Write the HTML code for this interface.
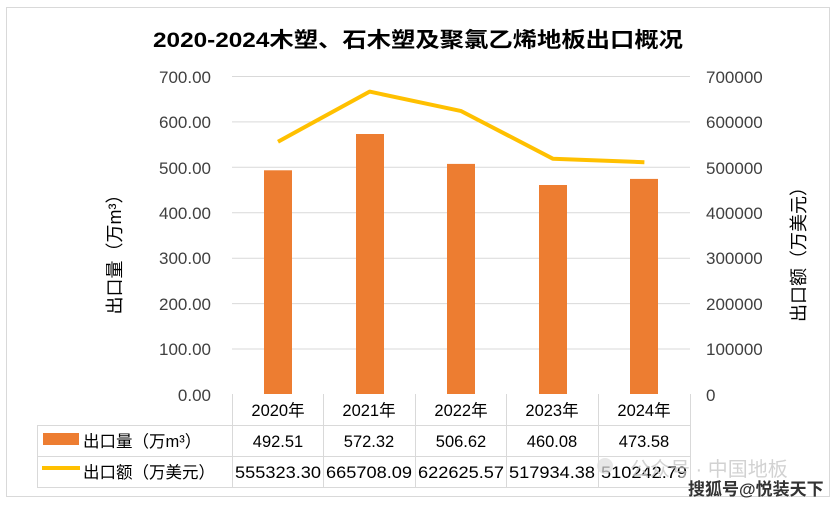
<!DOCTYPE html>
<html><head><meta charset="utf-8"><style>
body{margin:0;background:#fff}
svg text{font-family:"Liberation Sans","Noto Sans CJK SC",sans-serif}
</style></head><body>
<svg width="837" height="502" xmlns="http://www.w3.org/2000/svg">
<rect x="0" y="0" width="837" height="502" fill="#fff"/>
<rect x="6.5" y="7.5" width="823" height="489" fill="none" stroke="#d9d9d9"/>
<text x="418" y="47" text-anchor="middle" font-size="21" font-weight="bold" fill="#000" textLength="530" lengthAdjust="spacingAndGlyphs">2020-2024木塑、石木塑及聚氯乙烯地板出口概况</text>
<g stroke="#d9d9d9" stroke-width="1">
<line x1="232" x2="690" y1="76.5" y2="76.5"/>
<line x1="232" x2="690" y1="121.9" y2="121.9"/>
<line x1="232" x2="690" y1="167.3" y2="167.3"/>
<line x1="232" x2="690" y1="212.7" y2="212.7"/>
<line x1="232" x2="690" y1="258.2" y2="258.2"/>
<line x1="232" x2="690" y1="303.6" y2="303.6"/>
<line x1="232" x2="690" y1="349" y2="349"/>
</g>
<g fill="#ed7d31">
<rect x="264" y="170.3" width="28" height="223.7"/>
<rect x="356" y="134" width="28" height="260"/>
<rect x="447" y="163.9" width="28" height="230.1"/>
<rect x="539" y="185" width="28" height="209"/>
<rect x="630" y="178.9" width="28" height="215.1"/>
</g>
<polyline fill="none" stroke="#ffc000" stroke-width="4" stroke-linejoin="round" points="278,141.7 369.6,91.6 461.2,111.1 552.8,158.7 644.4,162.2"/>
<g font-size="17" fill="#404040" text-anchor="end">
<text x="211" y="83">700.00</text><text x="211" y="128">600.00</text><text x="211" y="174">500.00</text><text x="211" y="219">400.00</text><text x="211" y="264">300.00</text><text x="211" y="310">200.00</text><text x="211" y="355">100.00</text><text x="211" y="401">0.00</text>
</g>
<g font-size="17" fill="#404040" text-anchor="start">
<text x="706" y="83">700000</text><text x="706" y="128">600000</text><text x="706" y="174">500000</text><text x="706" y="219">400000</text><text x="706" y="264">300000</text><text x="706" y="310">200000</text><text x="706" y="355">100000</text><text x="706" y="401">0</text>
</g>
<text transform="translate(121,250) rotate(-90)" text-anchor="middle" font-size="18" fill="#000">出口量（万m³）</text>
<text transform="translate(805,250) rotate(-90)" text-anchor="middle" font-size="18" fill="#000">出口额（万美元）</text>
<g stroke="#d9d9d9" stroke-width="1" fill="none">
<line x1="232.5" x2="232.5" y1="394" y2="487"/>
<line x1="323.5" x2="323.5" y1="394" y2="487"/>
<line x1="415.5" x2="415.5" y1="394" y2="487"/>
<line x1="506.5" x2="506.5" y1="394" y2="487"/>
<line x1="598.5" x2="598.5" y1="394" y2="487"/>
<line x1="690.5" x2="690.5" y1="394" y2="487"/>
<line x1="37.5" x2="37.5" y1="425" y2="487"/>
<line x1="37" x2="690" y1="425.5" y2="425.5"/>
<line x1="37" x2="690" y1="456.5" y2="456.5"/>
<line x1="37" x2="690" y1="487.5" y2="487.5"/>
</g>
<g font-size="16.5" fill="#000" text-anchor="middle">
<text x="278" y="416">2020年</text><text x="369" y="416">2021年</text><text x="461" y="416">2022年</text><text x="552" y="416">2023年</text><text x="644" y="416">2024年</text>
<text x="278" y="447">492.51</text><text x="369" y="447">572.32</text><text x="461" y="447">506.62</text><text x="552" y="447">460.08</text><text x="644" y="447">473.58</text>
<text x="278" y="478" textLength="86" lengthAdjust="spacingAndGlyphs">555323.30</text><text x="369" y="478" textLength="86" lengthAdjust="spacingAndGlyphs">665708.09</text><text x="461" y="478" textLength="86" lengthAdjust="spacingAndGlyphs">622625.57</text><text x="552" y="478" textLength="86" lengthAdjust="spacingAndGlyphs">517934.38</text><text x="644" y="478" textLength="86" lengthAdjust="spacingAndGlyphs">510242.79</text>
</g>
<rect x="43" y="433" width="36" height="12" fill="#ed7d31"/>
<line x1="42" x2="80" y1="468" y2="468" stroke="#ffc000" stroke-width="4"/>
<text x="83" y="447" font-size="16.5" fill="#000">出口量（万m³）</text>
<text x="83" y="478" font-size="16.5" fill="#000">出口额（万美元）</text>
<circle cx="605" cy="466" r="8" fill="#ddd" opacity="0.7"/>
<text x="630" y="476" font-size="20" fill="#c8c8c8" opacity="0.8">公众号 · 中国地板</text>
<text x="688" y="495" font-size="17" font-weight="bold" fill="#333">搜狐号@悦装天下</text>
</svg>
</body></html>
